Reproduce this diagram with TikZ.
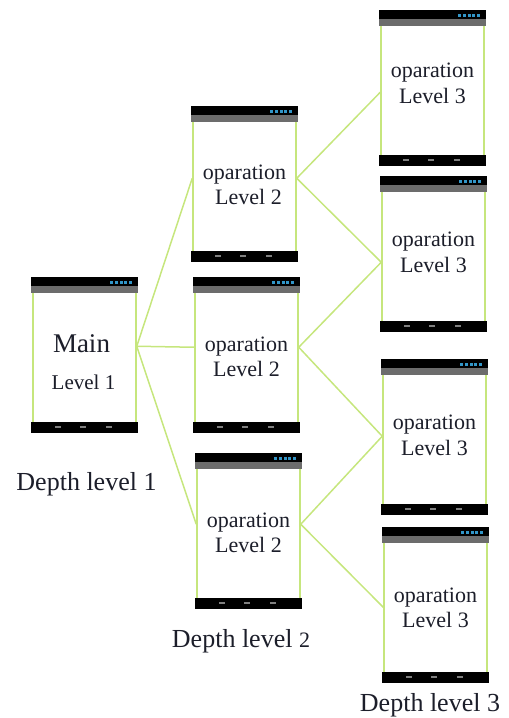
\documentclass[tikz,border=0pt]{standalone}
\usepackage{fontspec}
\setmainfont{Liberation Serif}
\usetikzlibrary{calc}
\definecolor{lime}{RGB}{198,230,125}
\definecolor{bargray}{RGB}{108,108,108}
\definecolor{icoblue}{RGB}{50,150,200}
\definecolor{txtcol}{RGB}{28,30,42}

\tikzset{
screen/.style={draw=lime, line width=1.5pt, fill=white, minimum width=103pt, minimum height=152pt, inner sep=0pt},
link/.style={draw=lime, line width=1.5pt},
lbl/.style={font=\rmfamily\fontsize{22}{24}\selectfont, text=txtcol, anchor=base, inner sep=0pt},
depth/.style={font=\rmfamily\fontsize{26}{28}\selectfont, text=txtcol, anchor=base, inner sep=0pt},
}

% name, left, top, port offset
\newcommand{\phonescreen}[4]{%
\node[screen] (#1) at (#2+51.5,#3+76) {};
% status bar and action bar
\fill[black] ($(#1.north west)+(-1,-1)$) rectangle ($(#1.north east)+(1,8)$);
\fill[bargray] ($(#1.north west)+(-1,8)$) rectangle ($(#1.north east)+(1,15)$);
\foreach \dx in {5,10,14,19,24}
  \fill[icoblue] ($(#1.north east)+(-\dx-2.5,3)$) rectangle ++(2.5,2.5);
% nav bar
\fill[black] ($(#1.south west)+(-1,-10)$) rectangle ($(#1.south east)+(1,1)$);
\foreach \dx in {26,51,77}
  \fill[gray] ($(#1.south west)+(\dx-3,-5.5)$) rectangle ++(6,2);
\coordinate (#1-in) at ($(#1.north west)+(0,#4)$);
\coordinate (#1-out) at ($(#1.north east)+(0,#4)$);
}

\begin{document}
\begin{tikzpicture}[x=1pt,y=-1pt]
\useasboundingbox (0,0) rectangle (509,718);

%screens
\phonescreen{m}{33}{279}{68}
\phonescreen{a}{193}{108}{71}
\phonescreen{b}{195}{279}{69}
\phonescreen{c}{197}{455}{70}
\phonescreen{p}{381}{12}{81}
\phonescreen{q}{382}{178}{85}
\phonescreen{r}{383}{361}{76}
\phonescreen{s}{384}{529}{79}

%links
\draw[link] (m-out) -- (a-in);
\draw[link] (m-out) -- (b-in);
\draw[link] (m-out) -- (c-in);
\draw[link] (a-out) -- (p-in);
\draw[link] (a-out) -- (q-in);
\draw[link] (b-out) -- (q-in);
\draw[link] (b-out) -- (r-in);
\draw[link] (c-out) -- (r-in);
\draw[link] (c-out) -- (s-in);

%texts
\node[lbl, font=\rmfamily\fontsize{27}{29}\selectfont] (m-t1) at ($(m.north)+(-3,74)$) {Main};
\node[lbl, font=\rmfamily\fontsize{21}{23}\selectfont] (m-t2) at ($(m.north)+(-1,111)$) {Level 1};

\node[lbl] (a-t1) at ($(a.north)+(0,72)$) {oparation};
\node[lbl] (a-t2) at ($(a.north)+(4,97)$) {Level 2};
\node[lbl] (b-t1) at ($(b.north)+(0,73)$) {oparation};
\node[lbl] (b-t2) at ($(b.north)+(0,98)$) {Level 2};
\node[lbl] (c-t1) at ($(c.north)+(0,73)$) {oparation};
\node[lbl] (c-t2) at ($(c.north)+(0,98)$) {Level 2};

\node[lbl] (p-t1) at ($(p.north)+(0,66)$) {oparation};
\node[lbl] (p-t2) at ($(p.north)+(0,92)$) {Level 3};
\node[lbl] (q-t1) at ($(q.north)+(0,69)$) {oparation};
\node[lbl] (q-t2) at ($(q.north)+(0,95)$) {Level 3};
\node[lbl] (r-t1) at ($(r.north)+(0,69)$) {oparation};
\node[lbl] (r-t2) at ($(r.north)+(0,95)$) {Level 3};
\node[lbl] (s-t1) at ($(s.north)+(0,74)$) {oparation};
\node[lbl] (s-t2) at ($(s.north)+(0,99)$) {Level 3};

%depth labels
\node[depth] (d1) at (86.5,490) {Depth level 1};
\node[depth] (d2) at (241,647) {Depth level {\fontsize{22}{24}\selectfont 2}};
\node[depth] (d3) at (430,711) {Depth level 3};

\end{tikzpicture}
\end{document}
